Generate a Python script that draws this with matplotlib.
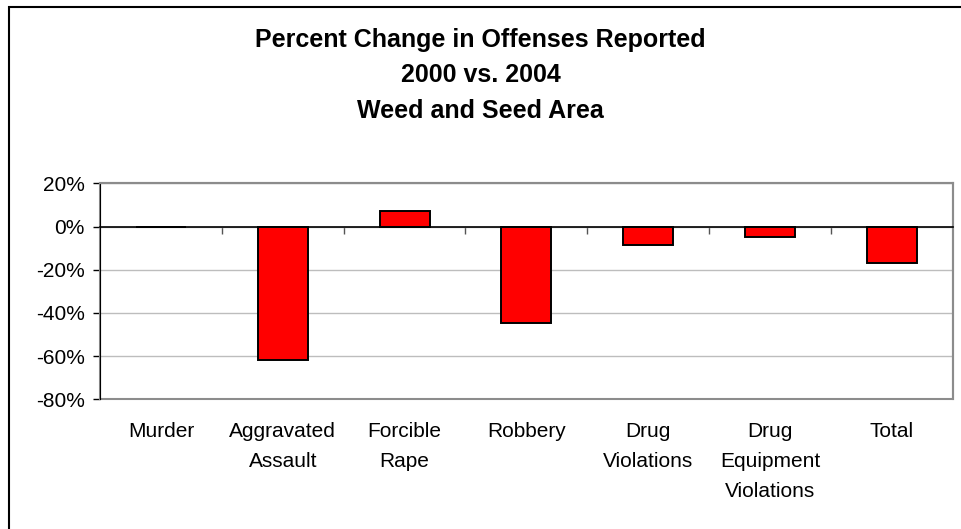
import matplotlib.pyplot as plt
from matplotlib.patches import Rectangle

plt.rcParams['font.family'] = ['Liberation Sans', 'DejaVu Sans']

# data
categories = ["Murder", "Aggravated\nAssault", "Forcible\nRape", "Robbery",
              "Drug\nViolations", "Drug\nEquipment\nViolations", "Total"]
pct_change = [0, -62, 7.4, -44.6, -8.6, -4.9, -17]
y_ticks = [-80, -60, -40, -20, 0, 20]
title_lines = ["Percent Change in Offenses Reported", "2000 vs. 2004", "Weed and Seed Area"]

W, H = 961, 529
fig = plt.figure(figsize=(W / 100, H / 100), dpi=100)

# outer chart frame (only left and top edges are in view)
fig.patches.append(Rectangle((9 / W, -0.1), 1.2, 1 - 7 / H + 0.1, transform=fig.transFigure,
                             fill=False, edgecolor="black", linewidth=1.5))

ax = fig.add_axes([100 / W, (H - 399.3) / H, 852.7 / W, 216 / H])

x = list(range(len(categories)))
ax.bar(x, pct_change, width=0.41, color="#FF0000", edgecolor="black", linewidth=1.4, zorder=3)

ax.set_xlim(-0.5, len(categories) - 0.5)
ax.set_ylim(-80, 20)
ax.set_yticks(y_ticks)
ax.set_yticklabels([f"{v}%" for v in y_ticks], fontsize=15)
ax.yaxis.grid(True, color="#BDBDBD", linewidth=1)
ax.set_axisbelow(True)
ax.tick_params(axis="y", length=5, width=1, color="black", pad=6)

# category axis crosses at 0, ticks between categories
ax.spines["bottom"].set_position(("data", 0))
ax.spines["bottom"].set_color("black")
ax.spines["bottom"].set_linewidth(1.2)
ax.spines["bottom"].set_zorder(4)
ax.set_xticks([i + 0.5 for i in x[:-1]])
ax.set_xticklabels([])
ax.tick_params(axis="x", length=5, width=1, color="#555555", direction="out")

for side in ["top", "right"]:
    ax.spines[side].set_color("#8C8C8C")
    ax.spines[side].set_linewidth(1.5)
ax.spines["left"].set_color("black")
ax.add_patch(Rectangle((0, 0), 1, 1, transform=ax.transAxes, fill=False,
                       edgecolor="#8C8C8C", linewidth=1.5, zorder=1, clip_on=False))

for i, label in enumerate(categories):
    ax.annotate(label, xy=(i, 0), xycoords=ax.get_xaxis_transform(),
                xytext=(0, -16.5), textcoords="offset points",
                ha="center", va="top", fontsize=15, linespacing=1.72)

fig.text(0.5, 1 - 28 / H, "\n".join(title_lines), ha="center", va="top",
         fontsize=18, fontweight="bold", linespacing=1.6)

fig.savefig("out.png", dpi=100)
